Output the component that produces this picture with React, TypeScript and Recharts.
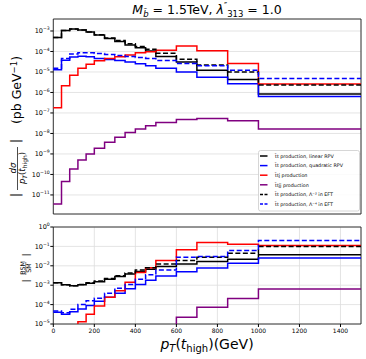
import React from 'react';
import { LineChart, Line, XAxis, YAxis, CartesianGrid, Legend, ReferenceArea } from 'recharts';

// bin edges of the top-pT histogram (GeV)
const binEdges = [0, 40, 80, 120, 160, 200, 250, 300, 350, 400, 450, 500, 600, 700, 850, 1000, 1500];

// upper panel: |dsigma/dpT| in pb/GeV, one value per bin
const linearRpv = [4.8e-4, 1.05e-3, 1.25e-3, 1.12e-3, 9e-4, 6.4e-4, 4.3e-4, 3.1e-4, 2.1e-4, 1.5e-4, 1.06e-4, 5.7e-5, 3.1e-5, 1.2e-5, 4.3e-6, 8.5e-7];
const quadRpv = [1.3e-5, 3.7e-5, 5.4e-5, 5.8e-5, 5.6e-5, 4.6e-5, 4.1e-5, 3.6e-5, 3.1e-5, 2.5e-5, 2.0e-5, 1.5e-5, 1.0e-5, 5.5e-6, 2.7e-6, 6.3e-7];
const ttj = [1.8e-7, 2.1e-6, 7e-6, 1.5e-5, 2.4e-5, 3.5e-5, 4.6e-5, 5.6e-5, 6.7e-5, 8.7e-5, 9.8e-5, 1.15e-4, 1.85e-4, 1.1e-4, 2.6e-5, 2.6e-6];
const ttjj = [3.6e-12, 4.5e-11, 1.85e-10, 5.1e-10, 1e-9, 1.9e-9, 3.7e-9, 6.5e-9, 1.1e-8, 1.65e-8, 2.4e-8, 3.4e-8, 4.8e-8, 5.3e-8, 4.2e-8, 1.65e-8];
const eft2 = [4.8e-4, 1.05e-3, 1.25e-3, 1.12e-3, 9e-4, 6.6e-4, 4.6e-4, 3.4e-4, 2.4e-4, 1.75e-4, 1.3e-4, 8.2e-5, 4.2e-5, 2.2e-5, 1.0e-5, 2.3e-6];
const eft4 = [1.5e-5, 4.5e-5, 7.6e-5, 8.7e-5, 8.7e-5, 8e-5, 7.1e-5, 6.4e-5, 5.7e-5, 5.1e-5, 4.6e-5, 3.6e-5, 2.6e-5, 2.0e-5, 1.2e-5, 4.8e-6];

// lower panel: |BSM/SM|
const linearRatio = [1.35e-3, 1.05e-3, 9.3e-4, 1.05e-3, 1.27e-3, 1.5e-3, 2e-3, 2.8e-3, 3.8e-3, 5.1e-3, 6.7e-3, 9.2e-3, 1.25e-2, 1.67e-2, 2.2e-2, 3.7e-2];
const quadRatio = [4e-5, 3.2e-5, 4.3e-5, 6e-5, 9e-5, 1.5e-4, 2.4e-4, 3.8e-4, 6.5e-4, 1.1e-3, 1.8e-3, 3e-3, 5e-3, 7.6e-3, 1.37e-2, 2.5e-2];
const ttjRatio = [null, null, 5e-6, 1.3e-5, 3.2e-5, 8.5e-5, 2.4e-4, 5.2e-4, 1.4e-3, 4.5e-3, 8e-3, 1.9e-2, 6.8e-2, 0.16, 0.13, 0.11];
const ttjjRatio = [null, null, null, null, null, null, null, null, null, null, null, 3e-6, 2.2e-5, 7.2e-5, 2.05e-4, 6.3e-4];
const eft2Ratio = [1.35e-3, 1.05e-3, 9.5e-4, 1.1e-3, 1.35e-3, 1.65e-3, 2.2e-3, 3.1e-3, 4.3e-3, 6e-3, 8e-3, 1.25e-2, 1.9e-2, 2.8e-2, 4.5e-2, 0.1];
const eft4Ratio = [4.7e-5, 3.8e-5, 5.8e-5, 1e-4, 1.6e-4, 2.1e-4, 3.8e-4, 7e-4, 1.1e-3, 2e-3, 3.5e-3, 6e-3, 2.8e-2, 3.0e-2, 6.2e-2, 0.2];

const xTicks = [0, 200, 400, 600, 800, 1000, 1200, 1400];
const topTicks = [1e-3, 1e-4, 1e-5, 1e-6, 1e-7, 1e-8, 1e-9, 1e-10, 1e-11];
const bottomTicks = [1, 1e-1, 1e-2, 1e-3, 1e-4, 1e-5];

const FONT = 'DejaVu Sans';

// step data: one row per bin edge, the last edge repeats the last bin
const toRows = (cols: Record<string, (number | null)[]>) =>
  binEdges.map((x, i) => {
    const k = Math.min(i, binEdges.length - 2);
    const row: any = { x };
    Object.keys(cols).forEach((key) => (row[key] = cols[key][k]));
    return row;
  });

const topData = toRows({ a: linearRpv, b: quadRpv, c: ttj, d: ttjj, e: eft2, f: eft4 });
const bottomData = toRows({ a: linearRatio, b: quadRatio, c: ttjRatio, d: ttjjRatio, e: eft2Ratio, f: eft4Ratio });

const minorTicks = (lo: number, hi: number) => {
  const out: number[] = [];
  for (let k = lo; k <= hi; k++) for (let m = 2; m <= 9; m++) out.push(m * Math.pow(10, k));
  return out;
};

const PowTick = ({ x, y, payload }: any) => {
  const exp = Math.round(Math.log10(payload.value));
  return (
    <text x={x} y={y + 2.2} textAnchor="end" fontSize={6.5} fontFamily={FONT} fill="#000">
      10<tspan fontSize={4.6} dy={-3}>{exp === 0 ? '0' : '\u2212' + Math.abs(exp)}</tspan>
    </text>
  );
};

const series = [
  { key: 'a', name: 't\u0304t production, linear RPV', color: '#000000', dash: undefined },
  { key: 'b', name: 't\u0304t production,  quadratic RPV', color: '#0000ff', dash: undefined },
  { key: 'c', name: 't\u0304tj production', color: '#ff0000', dash: undefined },
  { key: 'd', name: 't\u0304tjj production', color: '#800080', dash: undefined },
  { key: 'e', name: 't\u0304t production, \u039b\u207b\u00b2 in EFT', color: '#000000', dash: '5 2.5' },
  { key: 'f', name: 't\u0304t production, \u039b\u207b\u2074 in EFT', color: '#0000ff', dash: '5 2.5' },
];

const LegendBox = ({ payload }: any) => (
  <svg width={102} height={62} style={{ display: 'block' }}>
    <rect x={0.5} y={0.5} width={101} height={60.5} rx={2} fill="#fff" fillOpacity={0.85} stroke="#cccccc" strokeWidth={0.8} />
    {(payload || []).map((p: any, i: number) => {
      const y = 6 + i * 9.6;
      return (
        <g key={i}>
          <line x1={2} x2={9.5} y1={y} y2={y} stroke={p.color} strokeWidth={1.5} strokeDasharray={p.payload?.strokeDasharray ? '3 1.5' : undefined} />
          <text x={17} y={y + 1.7} fontSize={4.8} fontFamily={FONT} fill="#000">{p.value}</text>
        </g>
      );
    })}
  </svg>
);

const lines = () =>
  series.map((s) => (
    <Line
      key={s.key}
      type="stepAfter"
      dataKey={s.key}
      name={s.name}
      stroke={s.color}
      strokeWidth={1.5}
      strokeDasharray={s.dash}
      dot={false}
      activeDot={false}
      isAnimationActive={false}
    />
  ));

const topDomain = [Math.pow(10, -11.93), Math.pow(10, -2.415)];
const bottomDomain = [1e-5, 1];

export default function App() {
  return (
    <div style={{ position: 'absolute', left: 0, top: 0, width: 366, height: 359, background: '#fff', fontFamily: FONT }}>
      <div style={{ position: 'absolute', left: 0, top: 0 }}>
        <LineChart width={366} height={220} data={topData} margin={{ top: 19, right: 5, bottom: 0, left: 0 }}>
          <CartesianGrid stroke="#dddddd" strokeWidth={0.8} />
          <XAxis dataKey="x" type="number" domain={[0, 1500]} ticks={xTicks} interval={0} height={6} tick={false} tickSize={3} axisLine={false} stroke="#000" />
          <YAxis yAxisId="minor" scale="log" domain={topDomain} allowDataOverflow ticks={minorTicks(-12, -3)} interval={0} width={0} tick={false} tickSize={1.8} axisLine={false} stroke="#000" />
          <YAxis scale="log" domain={topDomain} allowDataOverflow ticks={topTicks} interval={0} width={53.3} tick={<PowTick />} tickSize={3} tickMargin={0.5} axisLine={false} stroke="#000" />
          <ReferenceArea x1={0} x2={1500} y1={topDomain[0]} y2={topDomain[1]} fill="none" stroke="#222" strokeWidth={0.9} ifOverflow="visible" />
          {lines()}
          <Legend layout="vertical" align="center" verticalAlign="middle" content={<LegendBox />}
            itemSorter={(item: any) => series.findIndex((s) => s.key === item.dataKey)}
            wrapperStyle={{ position: 'absolute', left: 258, top: 150, width: 102, height: 62 }} />
        </LineChart>
      </div>
      <div style={{ position: 'absolute', left: 0, top: 220 }}>
        <LineChart width={366} height={139} data={bottomData} margin={{ top: 7, right: 5, bottom: 0, left: 0 }}>
          <CartesianGrid stroke="#dddddd" strokeWidth={0.8} />
          <XAxis dataKey="x" type="number" domain={[0, 1500]} ticks={xTicks} interval={0} height={35} tickSize={3} tickMargin={1.5} axisLine={false} stroke="#000"
            tick={{ fontSize: 6, fill: '#000', fontFamily: FONT }} />
          <YAxis yAxisId="minor" scale="log" domain={bottomDomain} allowDataOverflow ticks={minorTicks(-5, -1)} interval={0} width={0} tick={false} tickSize={1.8} axisLine={false} stroke="#000" />
          <YAxis scale="log" domain={bottomDomain} allowDataOverflow ticks={bottomTicks} interval={0} width={53.3} tick={<PowTick />} tickSize={3} tickMargin={0.5} axisLine={false} stroke="#000" />
          <ReferenceArea x1={0} x2={1500} y1={1e-5} y2={1} fill="none" stroke="#222" strokeWidth={0.9} ifOverflow="visible" />
          {lines()}
        </LineChart>
      </div>
      <svg width={366} height={359} style={{ position: 'absolute', left: 0, top: 0, pointerEvents: 'none' }} fontFamily={FONT}>
        <text x={207} y={14} textAnchor="middle" fontSize={12.5} fill="#000">
          <tspan fontStyle="italic">M</tspan>
          <tspan fontSize={8.5} dy={3} fontStyle="italic">{'b\u0303'}</tspan>
          <tspan dy={-3}>{' = 1.5TeV, '}</tspan>
          <tspan fontStyle="italic">λ</tspan>
          <tspan fontSize={8.5} dy={-5}>″</tspan>
          <tspan fontSize={8.5} dy={8}>313</tspan>
          <tspan dy={-3}>{' = 1.0'}</tspan>
        </text>
        <g transform="rotate(-90)" fill="#000">
          <text x={-195} y={20} textAnchor="middle" fontSize={13}>|</text>
          <text x={-168} y={15.5} textAnchor="middle" fontSize={8.5} fontStyle="italic">dσ</text>
          <line x1={-147} x2={-190} y1={17.5} y2={17.5} stroke="#000" strokeWidth={0.7} />
          <text x={-168} y={25} textAnchor="middle" fontSize={8.5}>
            <tspan fontStyle="italic">p</tspan>
            <tspan fontSize={6} fontStyle="italic" dy={1.5}>T</tspan>
            <tspan dy={-1.5}>(</tspan>
            <tspan fontStyle="italic">t</tspan>
            <tspan fontSize={6} dy={1.5}>high</tspan>
            <tspan dy={-1.5}>)</tspan>
          </text>
          <text x={-141} y={20} textAnchor="middle" fontSize={13}>|</text>
          <text x={-90} y={21} textAnchor="middle" fontSize={12.5}>
            (pb GeV<tspan fontSize={8.5} dy={-4.5}>−1</tspan><tspan dy={4.5}>)</tspan>
          </text>
          <text x={-281} y={28.5} textAnchor="middle" fontSize={9.5}>|</text>
          <text x={-268} y={25} textAnchor="middle" fontSize={6.3}>BSM</text>
          <line x1={-262} x2={-275} y1={25.8} y2={25.8} stroke="#000" strokeWidth={0.5} />
          <text x={-268} y={30.5} textAnchor="middle" fontSize={6.3}>SM</text>
          <text x={-255} y={28.5} textAnchor="middle" fontSize={9.5}>|</text>
        </g>
        <text x={207} y={349} textAnchor="middle" fontSize={14} fill="#000">
          <tspan fontStyle="italic">p</tspan>
          <tspan fontSize={10} fontStyle="italic" dy={3}>T</tspan>
          <tspan dy={-3}>(</tspan>
          <tspan fontStyle="italic">t</tspan>
          <tspan fontSize={10} dy={3}>high</tspan>
          <tspan dy={-3}>)(GeV)</tspan>
        </text>
      </svg>
    </div>
  );
}
